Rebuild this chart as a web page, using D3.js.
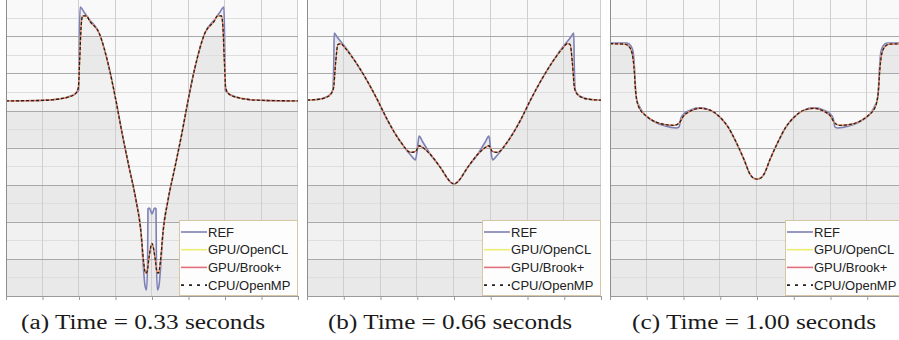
<!DOCTYPE html>
<html>
<head>
<meta charset="utf-8">
<script src="https://cdn.jsdelivr.net/npm/d3@7"></script>
<style>
  body { margin: 0; background: #fff; }
  svg { display: block; }
</style>
</head>
<body>
<div id="canvas"></div>
<script>
const seriesNames = ['REF', 'GPU/OpenCL', 'GPU/Brook+', 'CPU/OpenMP']
const captions = ['(a) Time = 0.33 seconds', '(b) Time = 0.66 seconds', '(c) Time = 1.00 seconds']
const xTicks = [0, 1, 2, 3, 4, 5, 6, 7, 8]
const yTicks = [0, 1, 2, 3, 4, 5, 6, 7, 8]

// (a) t = 0.33
const refA = [
  [0, 5.26], [0.9, 5.27], [1.45, 5.31], [1.73, 5.38], [1.92, 5.47], [1.99, 5.55], [2.01, 6.9], [2.03, 7.79],
  [2.14, 7.65], [2.27, 7.47], [2.55, 7.09], [2.82, 6.17], [3.01, 5.28], [3.18, 4.39], [3.37, 3.48], [3.56, 2.59],
  [3.7, 1.7], [3.75, 0.97], [3.81, 0.27], [3.85, 0.16], [3.88, 0.97], [3.89, 2.35], [3.93, 2.37], [4.0, 2.21],
  [4.07, 2.37], [4.11, 2.35], [4.12, 0.97], [4.15, 0.16], [4.19, 0.27], [4.25, 0.97], [4.3, 1.7], [4.44, 2.59],
  [4.63, 3.48], [4.82, 4.39], [4.99, 5.28], [5.18, 6.17], [5.45, 7.09], [5.73, 7.47], [5.86, 7.65], [5.97, 7.79],
  [5.99, 6.9], [6.01, 5.55], [6.08, 5.47], [6.27, 5.38], [6.55, 5.31], [7.1, 5.27], [8, 5.26]
]
const simA = [
  [0, 5.26], [0.9, 5.27], [1.45, 5.31], [1.73, 5.37], [1.9, 5.45], [1.98, 5.6], [2.02, 6.4], [2.06, 7.3],
  [2.1, 7.55], [2.2, 7.55], [2.3, 7.4], [2.55, 7.09], [2.82, 6.17], [3.01, 5.28], [3.18, 4.39], [3.37, 3.48],
  [3.56, 2.59], [3.7, 1.7], [3.77, 0.92], [3.82, 0.62], [3.86, 0.64], [3.92, 1.05], [4.0, 1.42], [4.08, 1.05],
  [4.14, 0.64], [4.18, 0.62], [4.23, 0.92], [4.3, 1.7], [4.44, 2.59], [4.63, 3.48], [4.82, 4.39], [4.99, 5.28],
  [5.18, 6.17], [5.45, 7.09], [5.7, 7.4], [5.8, 7.55], [5.9, 7.55], [5.94, 7.3], [5.98, 6.4], [6.02, 5.6],
  [6.1, 5.45], [6.27, 5.37], [6.55, 5.31], [7.1, 5.27], [8, 5.26]
]

// (b) t = 0.66
const refB = [
  [0, 5.28], [0.3, 5.3], [0.49, 5.35], [0.63, 5.44], [0.7, 5.55], [0.73, 6.36], [0.74, 7.09], [0.82, 6.98],
  [1.04, 6.71], [1.32, 6.31], [1.59, 5.88], [1.92, 5.28], [2.19, 4.74], [2.55, 4.15], [2.82, 3.8], [2.95, 3.67],
  [3.0, 3.94], [3.05, 4.31], [3.15, 4.15], [3.37, 3.8], [3.64, 3.45], [3.86, 3.12], [3.93, 3.05], [4.0, 3.02],
  [4.07, 3.05], [4.14, 3.12], [4.36, 3.45], [4.63, 3.8], [4.85, 4.15], [4.95, 4.31], [5.0, 3.94], [5.05, 3.67],
  [5.18, 3.8], [5.45, 4.15], [5.81, 4.74], [6.08, 5.28], [6.41, 5.88], [6.68, 6.31], [6.96, 6.71], [7.18, 6.98],
  [7.26, 7.09], [7.27, 6.36], [7.3, 5.55], [7.37, 5.44], [7.51, 5.35], [7.7, 5.3], [8, 5.28]
]
const simB = [
  [0, 5.28], [0.3, 5.3], [0.49, 5.34], [0.63, 5.42], [0.72, 5.6], [0.78, 6.3], [0.84, 6.78], [0.92, 6.8],
  [1.04, 6.68], [1.32, 6.31], [1.59, 5.88], [1.92, 5.28], [2.19, 4.74], [2.55, 4.15], [2.82, 3.87], [2.96, 3.9],
  [3.05, 4.05], [3.12, 4.02], [3.37, 3.8], [3.64, 3.45], [3.86, 3.12], [3.93, 3.05], [4.0, 3.02], [4.07, 3.05],
  [4.14, 3.12], [4.36, 3.45], [4.63, 3.8], [4.88, 4.02], [4.95, 4.05], [5.04, 3.9], [5.18, 3.87], [5.45, 4.15],
  [5.81, 4.74], [6.08, 5.28], [6.41, 5.88], [6.68, 6.31], [6.96, 6.68], [7.08, 6.8], [7.16, 6.78], [7.22, 6.3],
  [7.28, 5.6], [7.37, 5.42], [7.51, 5.34], [7.7, 5.3], [8, 5.28]
]

// (c) t = 1.00
const refC = [
  [0, 6.82], [0.46, 6.82], [0.57, 6.74], [0.63, 6.58], [0.67, 6.09], [0.71, 5.36], [0.82, 5.07], [0.98, 4.85],
  [1.22, 4.69], [1.5, 4.58], [1.8, 4.53], [1.88, 4.56], [1.93, 4.8], [2.01, 4.91], [2.18, 5.01], [2.45, 5.07],
  [2.72, 5.01], [2.99, 4.82], [3.21, 4.56], [3.43, 4.15], [3.65, 3.67], [3.8, 3.3], [3.9, 3.18], [4.0, 3.15],
  [4.1, 3.18], [4.2, 3.3], [4.35, 3.67], [4.57, 4.15], [4.79, 4.56], [5.01, 4.82], [5.28, 5.01], [5.55, 5.07],
  [5.82, 5.01], [5.99, 4.91], [6.07, 4.8], [6.12, 4.56], [6.2, 4.53], [6.5, 4.58], [6.78, 4.69], [7.02, 4.85],
  [7.18, 5.07], [7.29, 5.36], [7.33, 6.09], [7.37, 6.58], [7.43, 6.74], [7.54, 6.82], [8, 6.82]
]
const simC = [
  [0, 6.8], [0.4, 6.79], [0.52, 6.72], [0.6, 6.55], [0.65, 6.2], [0.7, 5.5], [0.78, 5.1], [0.98, 4.86],
  [1.22, 4.7], [1.5, 4.62], [1.75, 4.6], [1.88, 4.66], [2.0, 4.85], [2.18, 4.98], [2.45, 5.06], [2.72, 5.01],
  [2.99, 4.82], [3.21, 4.56], [3.43, 4.15], [3.65, 3.67], [3.8, 3.3], [3.9, 3.18], [4.0, 3.15], [4.1, 3.18],
  [4.2, 3.3], [4.35, 3.67], [4.57, 4.15], [4.79, 4.56], [5.01, 4.82], [5.28, 5.01], [5.55, 5.06], [5.82, 4.98],
  [6.0, 4.85], [6.12, 4.66], [6.25, 4.6], [6.5, 4.62], [6.78, 4.7], [7.02, 4.86], [7.22, 5.1], [7.3, 5.5],
  [7.35, 6.2], [7.4, 6.55], [7.48, 6.72], [7.6, 6.79], [8, 6.8]
]

const width = 899
const height = 340
const plotTop = -0.8
const plotBottom = 296
const colors = ['#7d80b6', '#ecec72', '#e26f7c', '#222222']

const panels = [
  { ref: refA, sim: simA, left: 6, right: 298, capX: 143 },
  { ref: refB, sim: simB, left: 307, right: 601, capX: 450 },
  { ref: refC, sim: simC, left: 610, right: 904, capX: 754 }
]

const svg = d3.select('#canvas')
  .append('svg')
    .attr('width', width)
    .attr('height', height)
    .attr('viewBox', [0, 0, width, height])

const y = d3.scaleLinear()
  .domain([0, 8])
  .range([plotBottom, plotTop])

panels.forEach((p, i) => {
  const x = d3.scaleLinear()
    .domain([0, 8])
    .range([p.left, p.right])

  const g = svg.append('g')

  svg.append('clipPath')
      .attr('id', `frame${i}`)
    .append('rect')
      .attr('x', p.left)
      .attr('y', plotTop)
      .attr('width', p.right - p.left)
      .attr('height', plotBottom - plotTop)

  const area = d3.area()
    .x(d => x(d[0]))
    .y0(y(0))
    .y1(d => y(d[1]))
    .curve(d3.curveMonotoneX)

  svg.append('clipPath')
      .attr('id', `under${i}`)
    .append('path')
      .attr('d', area(p.ref))

  const inner = g.append('g').attr('clip-path', `url(#frame${i})`)

  inner.append('rect')
    .attr('x', p.left)
    .attr('y', plotTop)
    .attr('width', p.right - p.left)
    .attr('height', plotBottom - plotTop)
    .attr('fill', '#f9f9f9')

  // banded fill under the curve
  inner.append('g')
      .attr('clip-path', `url(#under${i})`)
    .selectAll('rect')
    .data(yTicks.slice(0, -1))
    .join('rect')
      .attr('x', p.left)
      .attr('width', p.right - p.left)
      .attr('y', d => y(d + 1))
      .attr('height', d => y(d) - y(d + 1))
      .attr('fill', d => d % 2 === 0 ? '#e9e9e9' : '#f1f1f1')

  // minor horizontal grid
  inner.append('g')
    .selectAll('line')
    .data(yTicks.slice(0, -1).map(d => d + 0.5))
    .join('line')
      .attr('x1', p.left).attr('x2', p.right)
      .attr('y1', d => Math.round(y(d)) + 0.5)
      .attr('y2', d => Math.round(y(d)) + 0.5)
      .attr('stroke', '#dedede')

  // vertical grid
  inner.append('g')
    .selectAll('line')
    .data(xTicks.slice(1))
    .join('line')
      .attr('x1', d => Math.round(x(d)) - 0.5)
      .attr('x2', d => Math.round(x(d)) - 0.5)
      .attr('y1', plotTop).attr('y2', plotBottom)
      .attr('stroke', '#cfcfcf')

  // major horizontal grid
  inner.append('g')
    .selectAll('line')
    .data(yTicks.slice(1))
    .join('line')
      .attr('x1', p.left).attr('x2', p.right)
      .attr('y1', d => Math.round(y(d)) + 0.5)
      .attr('y2', d => Math.round(y(d)) + 0.5)
      .attr('stroke', '#a9a9a9')

  // left axis
  g.append('line')
    .attr('x1', p.left + 0.5).attr('x2', p.left + 0.5)
    .attr('y1', plotTop).attr('y2', plotBottom)
    .attr('stroke', '#8e8e8e')

  const line = d3.line()
    .x(d => x(d[0]))
    .y(d => y(d[1]))
    .curve(d3.curveMonotoneX)

  const lines = inner.append('g').attr('fill', 'none')
  lines.append('path').attr('d', line(p.ref)).attr('stroke', colors[0]).attr('stroke-width', 1.6)
  lines.append('path').attr('d', line(p.sim)).attr('stroke', colors[1]).attr('stroke-width', 1.6)
  lines.append('path').attr('d', line(p.sim)).attr('stroke', colors[2]).attr('stroke-width', 1.3)
  lines.append('path').attr('d', line(p.sim)).attr('stroke', colors[3]).attr('stroke-width', 1.3)
    .attr('stroke-dasharray', '3,2')

  // bottom axis
  const xAxis = d3.axisBottom(x)
    .tickValues(xTicks)
    .tickSize(4)
    .tickFormat('')
  g.append('g')
    .attr('transform', `translate(0, ${plotBottom})`)
    .call(xAxis)
    .call(a => a.select('.domain').attr('stroke', '#9a9a9a'))
    .call(a => a.selectAll('.tick line').attr('stroke', '#9a9a9a'))

  // legend
  const lw = 119
  const lh = 76
  const lx = p.right - lw
  const ly = plotBottom - lh
  const legend = g.append('g')
  legend.append('rect')
    .attr('x', lx + 0.5).attr('y', ly + 0.5)
    .attr('width', lw - 1).attr('height', lh - 1)
    .attr('fill', '#fdfdfd')
    .attr('stroke', '#d6c6a6')
  seriesNames.forEach((name, k) => {
    const yy = ly + 12 + k * 17.7
    legend.append('line')
      .attr('x1', lx + 2).attr('x2', lx + 28)
      .attr('y1', yy).attr('y2', yy)
      .attr('stroke', colors[k])
      .attr('stroke-width', 1.6)
      .attr('stroke-dasharray', k === 3 ? '3,5' : null)
    legend.append('text')
      .attr('x', lx + 29)
      .attr('y', yy + 4.5)
      .attr('font-family', 'Liberation Sans, Arial, sans-serif')
      .attr('font-size', 13)
      .attr('fill', '#222')
      .text(name)
  })

  svg.append('text')
    .attr('x', p.capX)
    .attr('y', 329)
    .attr('text-anchor', 'middle')
    .attr('font-family', 'Liberation Serif, serif')
    .attr('font-size', 20)
    .attr('fill', '#1a1a1a')
    .attr('textLength', 244)
    .attr('lengthAdjust', 'spacingAndGlyphs')
    .text(captions[i])
})
</script>
</body>
</html>
